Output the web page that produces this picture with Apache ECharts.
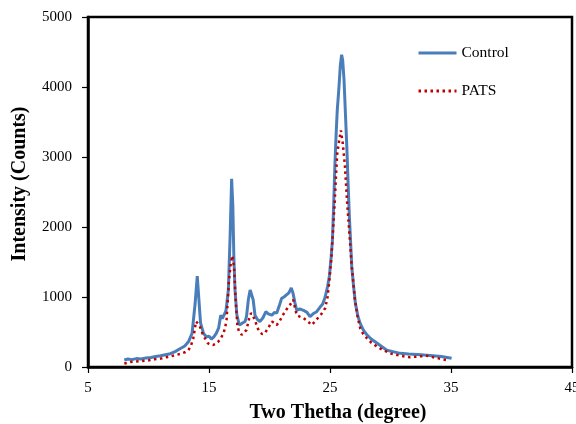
<!DOCTYPE html>
<html>
<head>
<meta charset="utf-8">
<script src="https://cdn.jsdelivr.net/npm/echarts@6/dist/echarts.min.js"></script>
<style>
html,body{margin:0;padding:0;background:#fff;}
#chart{width:576px;height:424px;}
</style>
</head>
<body>
<div id="chart"></div>
<script>
const seriesNames = ['Control', 'PATS'];
const xTicks = [5, 15, 25, 35, 45];
const yTicks = [0, 1000, 2000, 3000, 4000, 5000];

const controlX = [8.0, 8.3, 8.6, 9.0, 9.4, 9.8, 10.2, 10.6, 11.0, 11.4, 11.8, 12.2, 12.6, 13.0, 13.3, 13.6, 13.85, 14.03, 14.15, 14.3, 14.55, 14.8, 15.0, 15.2, 15.4, 15.6, 15.8, 15.97, 16.1, 16.24, 16.4, 16.6, 16.75, 16.87, 16.97, 17.05, 17.15, 17.3, 17.5, 17.7, 17.98, 18.1, 18.25, 18.4, 18.53, 18.65, 18.8, 19.0, 19.2, 19.45, 19.7, 19.9, 20.2, 20.4, 20.6, 20.8, 21.0, 21.2, 21.4, 21.6, 21.8, 21.95, 22.1, 22.25, 22.5, 22.8, 23.1, 23.35, 23.6, 23.9, 24.2, 24.4, 24.6, 24.8, 24.95, 25.1, 25.2, 25.3, 25.4, 25.5, 25.6, 25.7, 25.76, 25.85, 25.96, 26.05, 26.16, 26.28, 26.4, 26.5, 26.6, 26.7, 26.8, 26.95, 27.1, 27.3, 27.5, 27.75, 28.05, 28.4, 28.9, 29.3, 29.7, 30.2, 30.8, 31.5, 32.2, 32.8, 33.5, 34.2, 35.05];
const controlY = [100, 115, 105, 120, 115, 130, 135, 150, 160, 175, 190, 220, 260, 300, 360, 480, 900, 1300, 1000, 630, 480, 430, 440, 400, 430, 480, 560, 740, 690, 670, 800, 1100, 1900, 2690, 2300, 1600, 1100, 750, 600, 620, 650, 720, 960, 1100, 1120, 960, 740, 680, 650, 700, 790, 760, 740, 780, 770, 870, 980, 1000, 1030, 1060, 1130, 1050, 920, 810, 830, 810, 780, 720, 760, 790, 860, 900, 1000, 1150, 1300, 1580, 1810, 2300, 2860, 3300, 3670, 3900, 4050, 4300, 4460, 4380, 4100, 3600, 3100, 2600, 2150, 1800, 1430, 1150, 910, 730, 620, 530, 460, 400, 340, 290, 240, 220, 195, 185, 180, 170, 160, 150, 125];

const patsX = [8.0, 8.5, 9.0, 9.85, 10.5, 11.0, 11.5, 12.0, 12.6, 13.0, 13.3, 13.5, 13.7, 13.93, 14.05, 14.2, 14.5, 14.9, 15.1, 15.35, 15.55, 15.76, 16.0, 16.2, 16.35, 16.45, 16.55, 16.65, 16.8, 16.93, 17.07, 17.2, 17.35, 17.5, 17.7, 17.9, 18.1, 18.3, 18.47, 18.6, 18.8, 19.0, 19.2, 19.4, 19.6, 19.9, 20.2, 20.4, 20.6, 20.85, 21.1, 21.4, 21.7, 21.97, 22.1, 22.25, 22.5, 22.8, 23.1, 23.5, 23.75, 24.0, 24.3, 24.6, 24.8, 24.95, 25.1, 25.25, 25.4, 25.5, 25.6, 25.76, 25.9, 26.05, 26.24, 26.4, 26.6, 26.8, 27.06, 27.3, 27.5, 27.75, 28.05, 28.4, 28.9, 29.4, 30.0, 30.8, 31.6, 32.3, 33.0, 33.8, 34.6];
const patsY = [50, 70, 80, 90, 110, 120, 140, 160, 185, 210, 240, 300, 410, 650, 640, 600, 460, 340, 320, 315, 330, 360, 420, 480, 580, 670, 950, 1240, 1480, 1590, 1430, 960, 580, 500, 460, 490, 530, 680, 770, 740, 670, 560, 500, 470, 480, 560, 650, 630, 600, 660, 740, 820, 890, 960, 850, 740, 720, 700, 660, 600, 650, 700, 760, 840, 1000, 1240, 1530, 1950, 2390, 2750, 3050, 3240, 3380, 3200, 2860, 2390, 1910, 1430, 960, 700, 550, 470, 410, 350, 290, 240, 195, 160, 140, 150, 160, 130, 100];

const pair = (xs, ys) => xs.map((x, i) => [x, ys[i]]);
const serif = 'Liberation Serif';

const chart = echarts.init(document.getElementById('chart'));
chart.setOption({
  animation: false,
  backgroundColor: '#fff',
  grid: {
    left: 88, right: 4, top: 17, bottom: 57,
    outerBoundsMode: 'none', containLabel: false,
    show: true, borderColor: '#000', borderWidth: 2.5
  },
  legend: {
    orient: 'vertical',
    left: 412, top: 40,
    itemWidth: 38, itemHeight: 14, itemGap: 22,
    itemStyle: { opacity: 0 },
    lineStyle: { width: 3 },
    textStyle: { fontFamily: serif, fontSize: 15.5, color: '#000' },
    data: seriesNames
  },
  xAxis: {
    type: 'value',
    min: xTicks[0], max: xTicks[xTicks.length - 1], interval: 10,
    axisLine: { lineStyle: { color: '#000', width: 2.5 } },
    axisTick: { show: true, inside: false, length: 6, lineStyle: { color: '#000', width: 1.2 } },
    splitLine: { show: false },
    axisLabel: { fontFamily: serif, fontSize: 15, color: '#000', margin: 14 }
  },
  yAxis: {
    type: 'value',
    min: yTicks[0], max: yTicks[yTicks.length - 1], interval: 1000,
    axisLine: { show: true, lineStyle: { color: '#000', width: 2.5 } },
    axisTick: { show: true, inside: false, length: 6, lineStyle: { color: '#000', width: 1.2 } },
    splitLine: { show: false },
    axisLabel: { fontFamily: serif, fontSize: 15, color: '#000', margin: 16, formatter: v => String(v) }
  },
  graphic: [
    {
      type: 'text', x: 338, y: 413,
      style: { text: 'Two Thetha (degree)', font: 'bold 20px "Liberation Serif"', fill: '#000', align: 'center', verticalAlign: 'middle' }
    },
    {
      type: 'text', x: 20, y: 184, rotation: Math.PI / 2,
      style: { text: 'Intensity (Counts)', font: 'bold 20px "Liberation Serif"', fill: '#000', align: 'center', verticalAlign: 'middle' }
    }
  ],
  series: [
    {
      name: seriesNames[0], type: 'line', symbol: 'none', smooth: false,
      data: pair(controlX, controlY),
      lineStyle: { color: '#4a7ebb', width: 3 },
      itemStyle: { color: '#4a7ebb' },
      z: 2
    },
    {
      name: seriesNames[1], type: 'line', symbol: 'none', smooth: false,
      data: pair(patsX, patsY),
      lineStyle: { color: '#c00000', width: 2.5, type: [2.5, 3.5] },
      itemStyle: { color: '#c00000' },
      z: 3
    }
  ]
});
</script>
</body>
</html>
